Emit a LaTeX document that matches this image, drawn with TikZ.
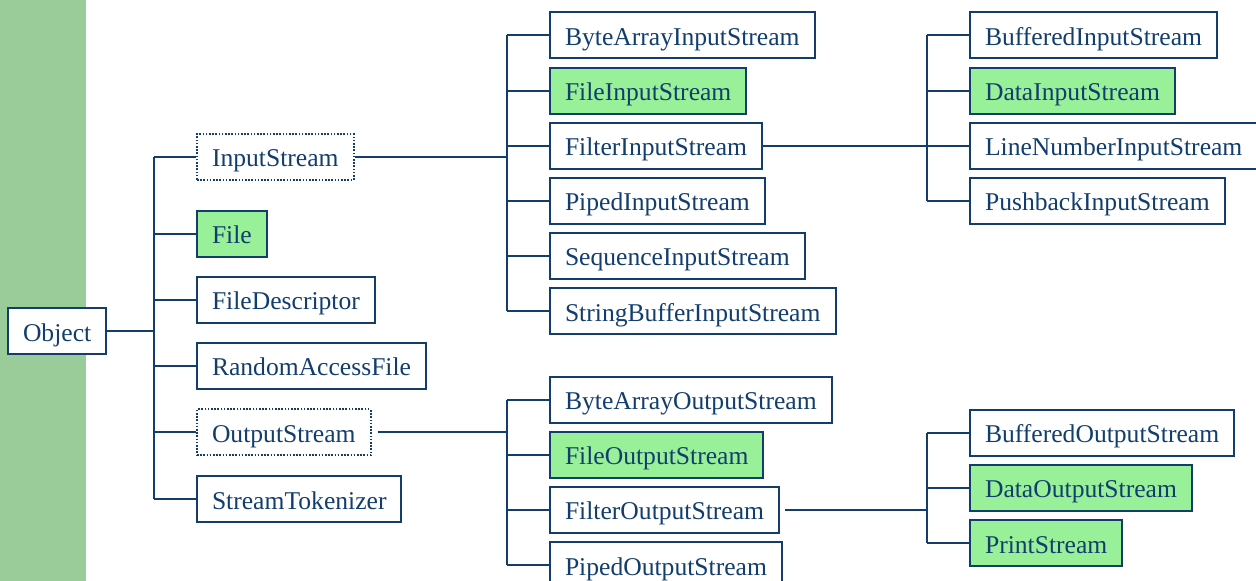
\documentclass[tikz,border=0pt]{standalone}
\usepackage{fontspec}
\setmainfont{Liberation Serif}
\usepackage[HTML]{xcolor}
\usetikzlibrary{positioning}

\definecolor{navy}{HTML}{123E6E}
\definecolor{leafgreen}{HTML}{98F098}
\definecolor{bargreen}{HTML}{99CC99}

\tikzset{
  cls/.style={draw=navy, line width=1pt, text=navy, fill=white, anchor=west,
    minimum height=23pt, inner xsep=7.5pt, inner ysep=0pt,
    text height=12pt, text depth=2pt,
    font=\fontsize{12.8}{15}\selectfont},
  abscls/.style={cls, dash pattern=on 0.8pt off 0.8pt},
  hicls/.style={cls, fill=leafgreen},
  link/.style={navy, line width=1pt},
}

\begin{document}
\begin{tikzpicture}[x=0.5pt, y=-0.5pt]
\useasboundingbox (0,0) rectangle (1256,581);
\fill[bargreen] (0,0) rectangle (86,581);

% --- Root ---
\node[cls] (obj) at (7,331.5) {Object};

% --- First level ---
\node[abscls] (is) at (196,157) {InputStream};
\node[hicls] (file) at (196,234) {File};
\node[cls] (fd) at (196,300) {FileDescriptor};
\node[cls] (raf) at (196,366) {RandomAccessFile};
\node[abscls] (os) at (196,432.5) {OutputStream};
\node[cls] (st) at (196,499.5) {StreamTokenizer};

% --- Input streams ---
\node[cls] (bais) at (549,35.5) {ByteArrayInputStream};
\node[hicls] (fis) at (549,91) {FileInputStream};
\node[cls] (filis) at (549,146) {FilterInputStream};
\node[cls] (pis) at (549,201) {PipedInputStream};
\node[cls] (sis) at (549,256) {SequenceInputStream};
\node[cls] (sbis) at (549,311.5) {StringBufferInputStream};

% --- Output streams ---
\node[cls] (baos) at (549,400) {ByteArrayOutputStream};
\node[hicls] (fos) at (549,455) {FileOutputStream};
\node[cls] (filos) at (549,510) {FilterOutputStream};
\node[cls] (pos) at (549,565) {PipedOutputStream};

% --- Filter input streams ---
\node[cls] (bis) at (969,35.5) {BufferedInputStream};
\node[hicls] (dis) at (969,91) {DataInputStream};
\node[cls] (lnis) at (969,146) {LineNumberInputStream};
\node[cls] (pbis) at (969,201) {PushbackInputStream};

% --- Filter output streams ---
\node[cls] (bos) at (969,433) {BufferedOutputStream};
\node[hicls] (dos) at (969,488) {DataOutputStream};
\node[hicls] (ps) at (969,543) {PrintStream};

% --- Connectors ---
\coordinate (t1) at (154,0);
\coordinate (t2) at (507,0);
\coordinate (t3) at (927,0);

\draw[link] (obj.east) -- (t1 |- obj.east);
\draw[link] (t1 |- is.west) -- (t1 |- st.west);
\draw[link] (t1 |- is.west) -- (is.west) (t1 |- file.west) -- (file.west)
  (t1 |- fd.west) -- (fd.west) (t1 |- raf.west) -- (raf.west)
  (t1 |- os.west) -- (os.west) (t1 |- st.west) -- (st.west);

\draw[link] (is.east) -- (t2 |- is.east);
\draw[link] (t2 |- bais.west) -- (t2 |- sbis.west);
\draw[link] (t2 |- bais.west) -- (bais.west) (t2 |- fis.west) -- (fis.west)
  (t2 |- filis.west) -- (filis.west) (t2 |- pis.west) -- (pis.west)
  (t2 |- sis.west) -- (sis.west) (t2 |- sbis.west) -- (sbis.west);

\draw[link] ([xshift=3pt]os.east) -- (t2 |- os.east);
\draw[link] (t2 |- baos.west) -- (t2 |- pos.west);
\draw[link] (t2 |- baos.west) -- (baos.west) (t2 |- fos.west) -- (fos.west)
  (t2 |- filos.west) -- (filos.west) (t2 |- pos.west) -- (pos.west);

\draw[link] (filis.east) -- (t3 |- filis.east);
\draw[link] (t3 |- bis.west) -- (t3 |- pbis.west);
\draw[link] (t3 |- bis.west) -- (bis.west) (t3 |- dis.west) -- (dis.west)
  (t3 |- lnis.west) -- (lnis.west) (t3 |- pbis.west) -- (pbis.west);

\draw[link] ([xshift=2.5pt]filos.east) -- (t3 |- filos.east);
\draw[link] (t3 |- bos.west) -- (t3 |- ps.west);
\draw[link] (t3 |- bos.west) -- (bos.west) (t3 |- dos.west) -- (dos.west)
  (t3 |- ps.west) -- (ps.west);
\end{tikzpicture}
\end{document}
